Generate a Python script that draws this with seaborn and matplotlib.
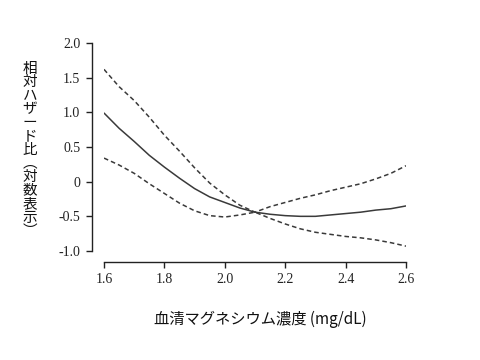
import numpy as np
import pandas as pd
import matplotlib
matplotlib.use("Agg")
import matplotlib.pyplot as plt
import seaborn as sns

# データ
mg = [1.60, 1.65, 1.70, 1.75, 1.80, 1.85, 1.90, 1.95, 2.00, 2.05, 2.10,
      2.15, 2.20, 2.25, 2.30, 2.35, 2.40, 2.45, 2.50, 2.55, 2.60]
hr_est = [0.99, 0.77, 0.58, 0.38, 0.21, 0.05, -0.10, -0.22, -0.30, -0.38, -0.44,
          -0.47, -0.49, -0.50, -0.50, -0.48, -0.46, -0.44, -0.41, -0.39, -0.35]
hr_upper = [1.62, 1.37, 1.17, 0.93, 0.67, 0.44, 0.20, -0.02, -0.19, -0.34, -0.44,
            -0.36, -0.30, -0.24, -0.19, -0.13, -0.08, -0.03, 0.04, 0.12, 0.23]
hr_lower = [0.34, 0.24, 0.12, -0.03, -0.17, -0.31, -0.42, -0.49, -0.51, -0.48, -0.44,
            -0.53, -0.61, -0.68, -0.73, -0.76, -0.79, -0.81, -0.84, -0.88, -0.93]

yticks = [-1.0, -0.5, 0, 0.5, 1.0, 1.5, 2.0]
ytick_labels = ['-1.0', '-0.5', '0', '0.5', '1.0', '1.5', '2.0']
xticks = [1.6, 1.8, 2.0, 2.2, 2.4, 2.6]
xtick_labels = ['1.6', '1.8', '2.0', '2.2', '2.4', '2.6']

df = pd.concat([
    pd.DataFrame({'mg': mg, 'hr': hr_est, 'series': 'est'}),
    pd.DataFrame({'mg': mg, 'hr': hr_upper, 'series': 'upper'}),
    pd.DataFrame({'mg': mg, 'hr': hr_lower, 'series': 'lower'}),
])

sns.set_style('ticks')
plt.rcParams['font.family'] = ['Liberation Serif', 'DejaVu Serif']

fig = plt.figure(figsize=(4.8, 3.6), dpi=100)
ax = fig.add_axes([104/480, 1-251/360, 302/480, 208/360])

sns.lineplot(data=df, x='mg', y='hr', style='series', color='#3a3a3a',
             dashes={'est': '', 'upper': (3, 2), 'lower': (3, 2)},
             linewidth=1.1, legend=False, ax=ax)

ax.set_xlim(1.6, 2.6)
ax.set_ylim(-1.0, 2.0)
ax.set_xticks(xticks)
ax.set_xticklabels(xtick_labels)
ax.set_yticks(yticks)
ax.set_yticklabels(ytick_labels)
ax.set_xlabel('')
ax.set_ylabel('')
ax.tick_params(labelsize=10, length=4, width=1, colors='#222222', pad=4)
sns.despine(ax=ax, offset={'left': 9, 'bottom': 8}, trim=True)
for s in ['left', 'bottom']:
    ax.spines[s].set_color('#222222')
    ax.spines[s].set_linewidth(1)

jp = ['Noto Sans CJK JP', 'DejaVu Sans']
fig.text(260/480, 1-319/360, '血清マグネシウム濃度 (mg/dL)', ha='center', va='center',
         fontsize=11, family=jp, color='#111111')
fig.text(30/480, 1-150/360, '\n'.join('相対ハザード比︵対数表示︶'), ha='center', va='center',
         fontsize=10.5, family=jp, linespacing=0.96, color='#111111')

fig.savefig('out.png', dpi=100)
